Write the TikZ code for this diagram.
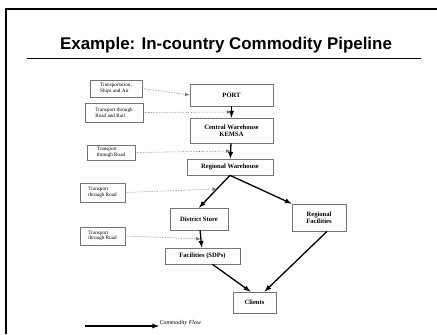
\documentclass[tikz,border=0pt]{standalone}
\usepackage{fontspec}
\setmainfont{Liberation Serif}
\newfontfamily\titlefont{Liberation Sans}
\usetikzlibrary{calc}

\begin{document}
\begin{tikzpicture}[x=1bp, y=-1bp,
        box/.style ={draw=black!55, line width=0.7bp, fill=white, inner sep=1bp,
                     align=center, font=\fontsize{6.6}{7.5}\selectfont\bfseries},
        tbox/.style={draw=black!55, line width=0.7bp, fill=white, inner sep=1.5bp,
                     align=left, font=\fontsize{5.2}{5.6}\selectfont},
        flow/.style ={-latex, line width=1.3bp},
        dott/.style ={-latex, densely dotted, draw=black!55, line width=0.6bp},]

    \useasboundingbox (0,0) rectangle (437,334);
    \draw[line width=2.4bp] (6,334) -- (6,9) -- (437,9);

    \node[font=\titlefont\fontsize{17}{19}\selectfont\bfseries] (title) at (226,45)
        {Example: In-country Commodity Pipeline};
    \draw[line width=0.8bp] (27,58) -- (421,58);

    \node[box, minimum width=83bp, minimum height=22bp] (port)     at (231.5, 95)
        {PORT};
    \node[box, minimum width=83bp, minimum height=25bp] (central)  at (231.5,130.5)
        {Central Warehouse\\KEMSA};
    \node[box, minimum width=86bp, minimum height=16bp] (regional) at (230,167)
        {Regional Warehouse};
    \node[box, minimum width=58bp, minimum height=22bp] (district) at (199,219)
        {District Store};
    \node[box, minimum width=75bp, minimum height=16bp] (facil)    at (202.5,256)
        {Facilities (SDPs)};
    \node[box, minimum width=54bp, minimum height=27bp] (regfac)   at (319,217.5)
        {Regional\\Facilities};
    \node[box, minimum width=43bp, minimum height=21bp] (clients)  at (254.5,302.5)
        {Clients};

    \node[tbox, minimum width=52bp, minimum height=17bp] (trSA) at (116, 88.5)
        {Transportation,\\Ships and Air};
    \node[tbox, minimum width=58bp, minimum height=19bp] (trRR) at (114,112.5)
        {Transport through\\Road and Rail};
    \node[tbox, minimum width=48bp, minimum height=15bp] (trRa) at (111,152.5)
        {Transport\\through Road};
    \node[tbox, minimum width=45bp, minimum height=19bp] (trRb) at (102.5,192.5)
        {Transport\\through Road};
    \node[tbox, minimum width=45bp, minimum height=18bp] (trRc) at (102.5,236)
        {Transport\\through Road};

    \draw[flow] (port) -- (central);
    \draw[flow] (central) -- (regional);
    \draw[flow] (regional.south) -- (district.north);
    \draw[flow] (regional.south) -- (regfac.north west);
    \draw[flow] (district) -- (facil);
    \draw[flow] ([xshift=10bp]facil.south) -- ([xshift=-4bp]clients.north);
    \draw[flow] ([xshift=8bp]regfac.south) -- ([xshift=10bp]clients.north);

    \draw[dott] (trSA.east) -- (port.west);
    \draw[dott] (trRR.east) -- ($(port.south)!0.5!(central.north)$);
    \draw[dott] (trRa.east) -- ($(central.south)!0.5!(regional.north)$);
    \draw[dott] (trRb.east) -- ($(regional.south)!0.42!(district.north)$);
    \draw[dott] (trRc.east) -- ($(district.south)!0.5!(facil.north)$);

    \coordinate (lgs) at (85,326);
    \node[anchor=south west, inner sep=0.5bp, font=\fontsize{6}{7}\selectfont\itshape]
        (cflow) at (159,326) {Commodity Flow};
    \draw[flow] (lgs) -- (cflow.south west);
\end{tikzpicture}
\end{document}
